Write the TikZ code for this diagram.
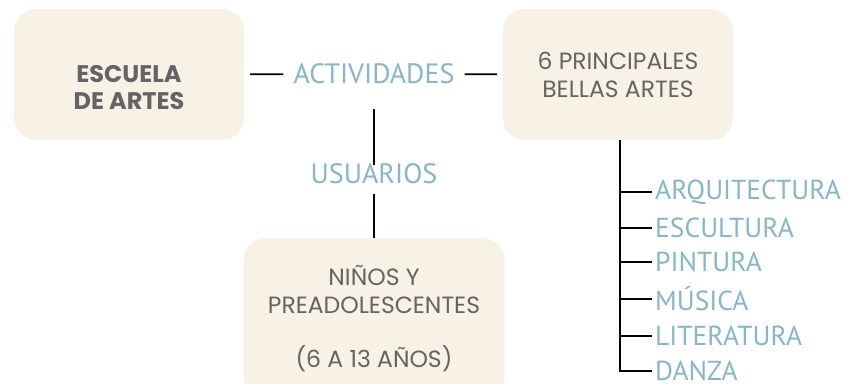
\documentclass[tikz,border=0pt]{standalone}
\usepackage{fontspec}
\setmainfont{Poppins}
\newfontfamily\labfont{PT Sans}
\usetikzlibrary{positioning,calc}
\definecolor{Cream}{HTML}{F7F1E6}
\definecolor{Ink}{HTML}{646464}
\definecolor{Sky}{HTML}{84B6CC}
\tikzset{
  box/.style={rounded corners=22pt,fill=Cream,minimum width=230pt,
    minimum height=131pt,align=center,text=Ink,font=\fontsize{23.5}{28}\selectfont},
  tag/.style={text=Sky,inner sep=1pt,font=\labfont\fontsize{28}{30}\selectfont},
  art/.style={text=Sky,anchor=west,inner sep=3pt,font=\labfont\fontsize{27.5}{28}\selectfont},
  conn/.style={draw=black,line width=1.8pt}
}

\begin{document}
\begin{tikzpicture}[x=1pt,y=-1pt]
        \useasboundingbox (0,0) rectangle (848,383);
        \clip (0,0) rectangle (848,383);
        \node[box,font=\fontsize{24}{27}\selectfont\bfseries] (esc) at (129,74.5)
          {\rule{0pt}{44pt}ESCUELA\\DE ARTES};
        \node[box] (bel) at (618,74.5) {6 PRINCIPALES\\BELLAS ARTES};
        \node[box,minimum width=261pt,minimum height=162pt] (nin) at (374,319)
          {NIÑOS Y\\PREADOLESCENTES\\[26pt](6 A 13 AÑOS)};
        \node[tag] (act) at (374,74) {ACTIVIDADES};
        \node[tag] (usu) at (374,174) {USUARIOS};
        \draw[conn,shorten <=6pt,shorten >=9pt] (esc) -- (act);
        \draw[conn,shorten <=9pt,shorten >=6pt] (act) -- (bel);
        \draw[conn,shorten <=24pt,shorten >=-2pt] (act) -- (usu);
        \draw[conn,shorten <=9pt] (usu) -- (nin);
        % ramas de las bellas artes
        \coordinate (top) at (620,140);
        \coordinate (end) at (620,372);
        \draw[conn] (top) -- (end);
        \foreach \name/\yy [count=\i] in {ARQUITECTURA/192,ESCULTURA/228,PINTURA/262,
            MÚSICA/299,LITERATURA/336,DANZA/371}{
          \node[art] (a\i) at (652,\yy) {\name};
          \coordinate (b\i) at (620,\yy);
          \draw[conn] (b\i) -- (a\i.west);
        }
      \end{tikzpicture}
\end{document}
